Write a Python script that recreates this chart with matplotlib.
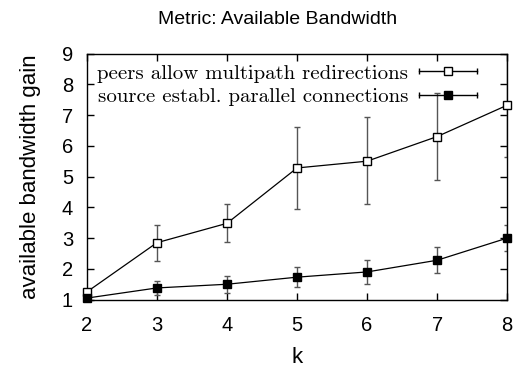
import matplotlib
matplotlib.use('Agg')
import matplotlib.pyplot as plt
from matplotlib.lines import Line2D
from matplotlib.legend_handler import HandlerBase

k = [2, 3, 4, 5, 6, 7, 8]

# peers allow multipath redirections
multi = [1.25, 2.85, 3.48, 5.28, 5.50, 6.30, 7.32]
multi_lo = [1.20, 2.27, 2.88, 3.95, 4.10, 4.90, 5.65]
multi_hi = [1.30, 3.43, 4.10, 6.62, 6.92, 7.72, 9.00]

# source establ. parallel connections
par = [1.05, 1.38, 1.50, 1.73, 1.90, 2.28, 3.00]
par_lo = [1.02, 1.15, 1.22, 1.40, 1.50, 1.88, 2.58]
par_hi = [1.08, 1.60, 1.78, 2.05, 2.30, 2.70, 3.42]

labels = ['peers allow multipath redirections', 'source establ. parallel connections']


class ErrBarHandler(HandlerBase):
    # gnuplot style key sample: horizontal bar with end caps and a point in the middle
    def __init__(self, face):
        super().__init__()
        self.face = face

    def create_artists(self, legend, orig_handle, xdescent, ydescent,
                       width, height, fontsize, trans):
        y = height / 2 - ydescent
        x0 = -xdescent
        x1 = x0 + width
        xm = (x0 + x1) / 2
        bar = Line2D([x0, x1], [y, y], color='black', lw=1)
        caps = Line2D([x0, x1], [y, y], ls='none', marker='|', ms=5, mew=1, color='black')
        pt = Line2D([xm], [y], ls='none', marker='s', ms=6, mfc=self.face, mec='black', mew=1)
        for a in (bar, caps, pt):
            a.set_transform(trans)
        return [bar, caps, pt]


plt.rcParams['font.family'] = ['Liberation Sans', 'DejaVu Sans']

fig = plt.figure(figsize=(5.17, 3.69), dpi=100)
ax = fig.add_axes([0.168, 0.188, 0.813, 0.667])

err_multi = [[m - lo for m, lo in zip(multi, multi_lo)], [hi - m for m, hi in zip(multi, multi_hi)]]
err_par = [[p - lo for p, lo in zip(par, par_lo)], [hi - p for p, hi in zip(par, par_hi)]]

ax.errorbar(k, multi, yerr=err_multi, fmt='none', ecolor='#555555', elinewidth=1, capsize=2.5, capthick=1)
ax.errorbar(k, par, yerr=err_par, fmt='none', ecolor='#555555', elinewidth=1, capsize=2.5, capthick=1)
h1, = ax.plot(k, multi, color='black', lw=0.9, marker='s', ms=6, mfc='white', mec='black', mew=1, clip_on=False, zorder=5)
h2, = ax.plot(k, par, color='black', lw=0.9, marker='s', ms=6, mfc='black', mec='black', clip_on=False, zorder=5)

ax.set_xlim(2, 8)
ax.set_ylim(1, 9)
ax.set_xticks(k)
ax.set_yticks(range(1, 10))
ax.tick_params(direction='in', top=True, right=True, length=5, width=1, labelsize=14.5)
ax.tick_params(axis='x', pad=11.5)
ax.tick_params(axis='y', pad=10)
for s in ax.spines.values():
    s.set_linewidth(1)

ax.set_xlabel('k', fontsize=16, labelpad=9)
ax.set_ylabel('available bandwidth gain', fontsize=16, labelpad=15)
fig.text(0.536, 0.947, 'Metric: Available Bandwidth', fontsize=14, ha='center', va='center')

leg = ax.legend([h1, h2], labels, loc='upper left', frameon=False, markerfirst=False,
                handler_map={h1: ErrBarHandler('white'), h2: ErrBarHandler('black')},
                prop={'family': 'cmr10', 'size': 15}, handlelength=2.8,
                borderaxespad=0.1, labelspacing=0.25, handletextpad=0.5)

fig.savefig('out.png', dpi=100)
